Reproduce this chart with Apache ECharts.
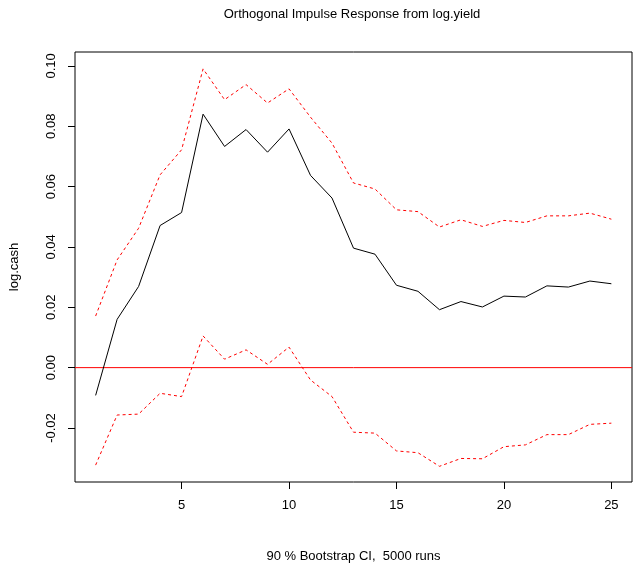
<!DOCTYPE html>
<html>
<head>
<meta charset="utf-8">
<script src="https://cdn.jsdelivr.net/npm/echarts@6/dist/echarts.min.js"></script>
<style>
  html, body { margin: 0; padding: 0; background: #fff; }
  #main { width: 638px; height: 571px; }
</style>
</head>
<body>
<div id="main"></div>
<script>
// horizon steps
var steps = [1, 2, 3, 4, 5, 6, 7, 8, 9, 10, 11, 12, 13, 14, 15, 16, 17, 18, 19, 20, 21, 22, 23, 24, 25];

// orthogonal impulse response of log.cash
var irf = [-0.0092, 0.0160, 0.0269, 0.0471, 0.0514, 0.0840, 0.0733, 0.0789, 0.0714, 0.0791,
  0.0637, 0.0562, 0.0396, 0.0376, 0.0273, 0.0253, 0.0192, 0.0219, 0.0201, 0.0237,
  0.0234, 0.0271, 0.0267, 0.0287, 0.0278];

// 90 % bootstrap bounds
var upper = [0.0171, 0.0357, 0.0462, 0.0639, 0.0722, 0.0990, 0.0888, 0.0938, 0.0877, 0.0924,
  0.0830, 0.0744, 0.0612, 0.0592, 0.0523, 0.0517, 0.0466, 0.0490, 0.0468, 0.0488,
  0.0481, 0.0503, 0.0503, 0.0512, 0.0492];
var lower = [-0.0323, -0.0157, -0.0154, -0.0085, -0.0096, 0.0105, 0.0028, 0.0059, 0.0011, 0.0068,
  -0.0041, -0.0096, -0.0214, -0.0217, -0.0276, -0.0282, -0.0327, -0.0301, -0.0302, -0.0262,
  -0.0256, -0.0222, -0.0222, -0.0188, -0.0184];

var xTicks = [5, 10, 15, 20, 25];
var yTicks = [-0.02, 0, 0.02, 0.04, 0.06, 0.08, 0.10];
var xRange = [0.04, 25.96];
var yRange = [-0.0379, 0.1046];
var zeroLine = 0;

function pairs(vals) {
  return steps.map(function (s, i) { return [s, vals[i]]; });
}

var chart = echarts.init(document.getElementById("main"));
var font = "Liberation Sans, Arial, sans-serif";
var fs = 13;

var option = {
  animation: false,
  backgroundColor: "#fff",
  grid: {
    left: 72, right: 6, top: 52, bottom: 89,
    show: true, borderColor: "#000", borderWidth: 1
  },
  graphic: [{
    type: "text",
    x: 352, y: 14,
    style: {
      text: "Orthogonal Impulse Response from log.yield",
      font: fs + "px " + font, fill: "#000",
      textAlign: "center", textVerticalAlign: "middle"
    }
  }],
  xAxis: {
    type: "value",
    min: xRange[0], max: xRange[1],
    name: "90 % Bootstrap CI,  5000 runs",
    nameLocation: "middle",
    nameGap: 68,
    nameTextStyle: { color: "#000", fontSize: fs, fontFamily: font },
    splitLine: { show: false },
    axisLine: { show: false, onZero: false },
    axisTick: { show: true, length: 7, lineStyle: { color: "#000" }, customValues: xTicks },
    axisLabel: { color: "#000", fontSize: fs, fontFamily: font, margin: 17, customValues: xTicks }
  },
  yAxis: {
    type: "value",
    min: yRange[0], max: yRange[1],
    name: "log.cash",
    nameLocation: "middle",
    nameRotate: 90,
    nameGap: 54,
    nameTextStyle: { color: "#000", fontSize: fs, fontFamily: font },
    splitLine: { show: false },
    axisLine: { show: false, onZero: false },
    axisTick: { show: true, length: 7, lineStyle: { color: "#000" }, customValues: yTicks },
    axisLabel: {
      color: "#000", fontSize: fs, fontFamily: font, margin: 17, rotate: 90,
      customValues: yTicks,
      formatter: function (v) { return v.toFixed(2); }
    }
  },
  series: [
    {
      // abline(h = 0) across the whole plot range
      name: "zero",
      type: "line",
      data: [[xRange[0], zeroLine], [xRange[1], zeroLine]],
      showSymbol: false,
      silent: true,
      z: 5,
      color: "#ff0000",
      lineStyle: { color: "#ff0000", width: 1, type: "solid" }
    },
    {
      name: "irf",
      type: "line",
      data: pairs(irf),
      showSymbol: false,
      z: 6,
      color: "#000",
      lineStyle: { color: "#000", width: 1 }
    },
    {
      name: "upper",
      type: "line",
      data: pairs(upper),
      showSymbol: false,
      z: 6,
      color: "#ff0000",
      lineStyle: { color: "#ff0000", width: 1, type: [3, 3] }
    },
    {
      name: "lower",
      type: "line",
      data: pairs(lower),
      showSymbol: false,
      z: 6,
      color: "#ff0000",
      lineStyle: { color: "#ff0000", width: 1, type: [3, 3] }
    }
  ]
};

chart.setOption(option);
</script>
</body>
</html>
